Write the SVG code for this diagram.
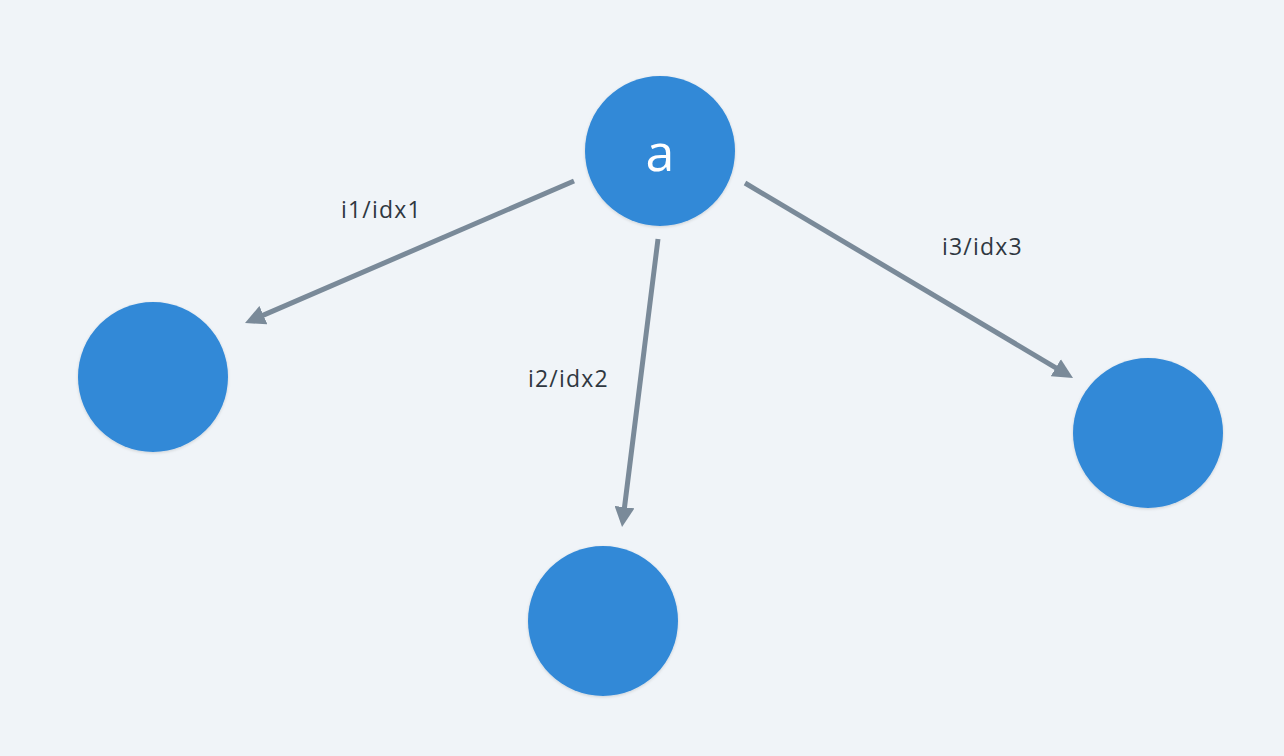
<svg xmlns="http://www.w3.org/2000/svg" width="1284" height="756" viewBox="0 0 1284 756">
<style>
.node{fill:#3389d7;filter:url(#sh)}
.edge{stroke:#7a8a99;stroke-width:5;fill:none;marker-end:url(#ah)}
.lbl{font-family:"Open Sans","Noto Sans",sans-serif;font-size:23px;letter-spacing:1.2px;fill:#2f3740}
.nl{font-family:"Open Sans","Noto Sans",sans-serif;font-size:52px;fill:#ffffff;text-anchor:middle}
</style>
<defs>
<marker id="ah" markerWidth="4" markerHeight="4" refX="1" refY="2" orient="auto" markerUnits="strokeWidth" viewBox="0 0 4 4">
<path d="M0,0 L4,2 L0,4 Z" fill="#7a8a99"/>
</marker>
<filter id="sh" x="-20%" y="-20%" width="140%" height="140%">
<feDropShadow dx="0" dy="1" stdDeviation="1.5" flood-color="#000" flood-opacity="0.15"/>
</filter>
</defs>
<rect width="1284" height="756" fill="#f0f4f8"/>
<g id="connectors">
<line class="edge" x1="574" y1="181" x2="258.8" y2="317.1"/>
<line class="edge" x1="658" y1="239" x2="623.9" y2="512.1"/>
<line class="edge" x1="745" y1="183" x2="1060.1" y2="370.3"/>
<text class="lbl" x="341" y="218">i1/idx1</text>
<text class="lbl" x="528" y="387">i2/idx2</text>
<text class="lbl" x="942" y="255">i3/idx3</text>
</g>
<g id="node-a">
<circle class="node" cx="660" cy="151" r="75"/>
<text class="nl" x="660" y="171">a</text>
</g>
<g id="node-left">
<circle class="node" cx="153" cy="377" r="75"/>
</g>
<g id="node-bottom">
<circle class="node" cx="603" cy="621" r="75"/>
</g>
<g id="node-right">
<circle class="node" cx="1148" cy="433" r="75"/>
</g>
</svg>
